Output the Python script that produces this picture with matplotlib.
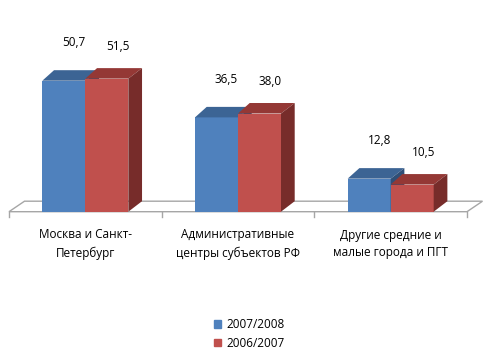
import matplotlib
matplotlib.use('Agg')
import matplotlib.pyplot as plt
from matplotlib.patches import Patch

plt.rcParams['font.family'] = ['Open Sans', 'DejaVu Sans']

categories = ['Москва и Санкт-\nПетербург',
              'Административные\nцентры субъектов РФ',
              'Другие средние и\nмалые города и ПГТ']
series = ['2007/2008', '2006/2007']
v_0708 = [50.7, 36.5, 12.8]
v_0607 = [51.5, 38.0, 10.5]
labels_0708 = ['50,7', '36,5', '12,8']
labels_0607 = ['51,5', '38,0', '10,5']

# цвета: передняя грань, верх, бок
blue = ('#4F81BD', '#3C6494', '#2F4F77')
red = ('#C0504D', '#943835', '#772C2A')

# масштаб: пикселей на категорию и на единицу значения
PXX = 152.67
PXY = 2.584
bar_w = 43 / PXX
dx_l = 11.7 / PXX
dx_r = 13.7 / PXX
dy = 10.5 / PXY

fig = plt.figure(figsize=(4.89, 3.63), dpi=100)
ax = fig.add_axes([0, 0, 1, 1])
ax.set_xlim(-9 / PXX - 0.5, 480 / PXX - 0.5)
ax.set_ylim(-151.3 / PXY, 211.7 / PXY)
ax.axis('off')

# пол
fdx = 15.5 / PXX
fdy = 10.5 / PXY
n = len(categories)
ax.fill([-0.5, n - 0.5, n - 0.5 + fdx, -0.5 + fdx],
        [0, 0, fdy, fdy], facecolor='white', edgecolor='#A6A6A6', lw=1, zorder=1)
for i in range(n + 1):
    ax.plot([i - 0.5, i - 0.5], [0, -5 / PXY], color='#A6A6A6', lw=1, zorder=1)


def bar3d(x0, h, cols):
    x1 = x0 + bar_w
    ax.fill([x0, x1, x1, x0], [0, 0, h, h], color=cols[0], lw=0, zorder=2)
    ax.fill([x0, x1, x1 + dx_r, x0 + dx_l], [h, h, h + dy, h + dy],
            color=cols[1], lw=0, zorder=2)
    ax.fill([x1, x1 + dx_r, x1 + dx_r, x1], [0, dy, h + dy, h],
            color=cols[2], lw=0, zorder=2)


for i in range(n):
    xb = i - bar_w
    xr = i
    bar3d(xb, v_0708[i], blue)
    bar3d(xr, v_0607[i], red)
    ax.text(xb + bar_w / 2 + 10 / PXX, v_0708[i] + 38 / PXY, labels_0708[i],
            ha='center', va='center', fontsize=8.5, color='black')
    ax.text(xr + bar_w / 2 + 11 / PXX, v_0607[i] + 32 / PXY, labels_0607[i],
            ha='center', va='center', fontsize=8.5, color='black')
    ax.text(i, -32.3 / PXY, categories[i], ha='center', va='center',
            fontsize=8.5, linespacing=1.45, color='black')

handles = [Patch(color=blue[0]), Patch(color=red[0])]
fig.legend(handles, series, loc='center', bbox_to_anchor=(0.51, 0.08),
           frameon=False, fontsize=8.5, handlelength=0.6, handleheight=0.6,
           handletextpad=0.4, labelspacing=0.45)

fig.savefig('out.png', dpi=100)
